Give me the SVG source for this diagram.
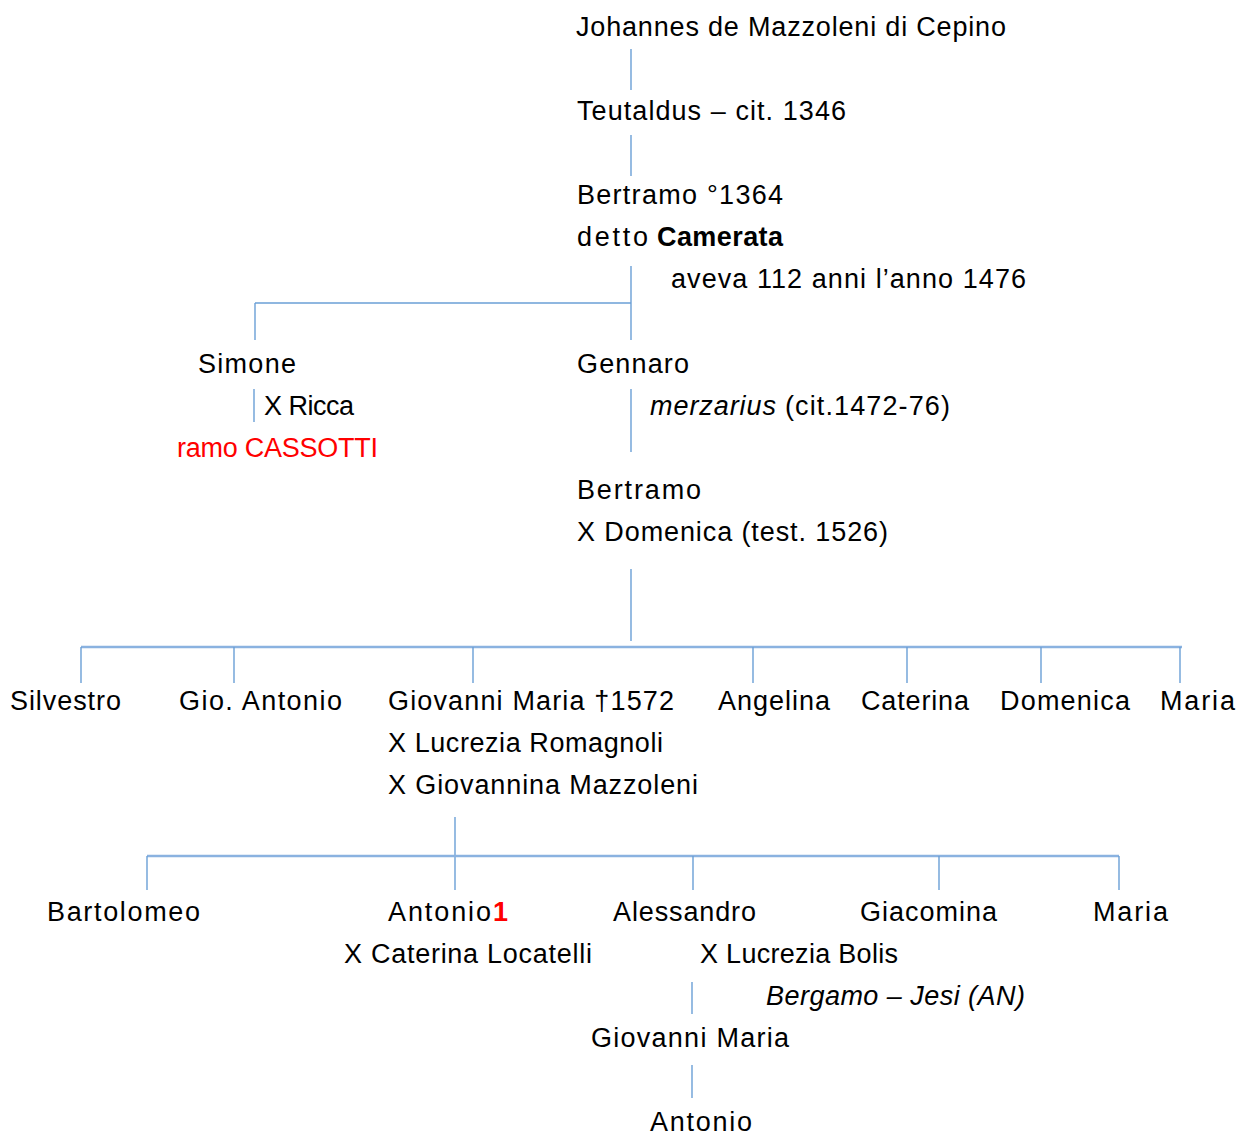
<svg xmlns="http://www.w3.org/2000/svg" width="1238" height="1135" viewBox="0 0 1238 1135">
<style>
text{font-family:"Liberation Sans",Arial,sans-serif;font-size:27px;fill:#000}
.red{fill:#ff0000}
.b{font-weight:bold}
.i{font-style:italic}
.ln line{stroke:#6a9fd6;stroke-width:1.4}
.ln line.th{stroke-width:2.6;stroke:#8ab2e0}
</style>
<rect width="1238" height="1135" fill="#fff"/>
<g id="connectors" class="ln">
<line x1="631" y1="49" x2="631" y2="90"/>
<line x1="631" y1="135" x2="631" y2="176"/>
<line x1="631" y1="266" x2="631" y2="340"/>
<line x1="255" y1="303" x2="631" y2="303"/>
<line x1="255" y1="303" x2="255" y2="340"/>
<line x1="254" y1="389" x2="254" y2="422"/>
<line x1="631" y1="389" x2="631" y2="452"/>
<line x1="631" y1="569" x2="631" y2="641"/>
<line class="th" x1="81" y1="647" x2="1182" y2="647"/>
<line x1="81" y1="647" x2="81" y2="683"/>
<line x1="234" y1="647" x2="234" y2="683"/>
<line x1="473" y1="647" x2="473" y2="683"/>
<line x1="753" y1="647" x2="753" y2="683"/>
<line x1="907" y1="647" x2="907" y2="683"/>
<line x1="1041" y1="647" x2="1041" y2="683"/>
<line x1="1180" y1="647" x2="1180" y2="683"/>
<line x1="455" y1="817" x2="455" y2="890"/>
<line class="th" x1="147" y1="856" x2="1119" y2="856"/>
<line x1="147" y1="856" x2="147" y2="890"/>
<line x1="693" y1="856" x2="693" y2="890"/>
<line x1="939" y1="856" x2="939" y2="890"/>
<line x1="1119" y1="856" x2="1119" y2="890"/>
<line x1="692" y1="982" x2="692" y2="1014"/>
<line x1="692" y1="1065" x2="692" y2="1098"/>
</g>
<g id="johannes"><text x="576" y="36" textLength="430">Johannes de Mazzoleni di Cepino</text></g>
<g id="teutaldus"><text x="577" y="120" textLength="269">Teutaldus – cit. 1346</text></g>
<g id="bertramo1">
<text x="577" y="204" textLength="206">Bertramo °1364</text>
<text x="577" y="246" textLength="71">detto</text>
<text class="b" x="657" y="246" textLength="126">Camerata</text>
<text x="671" y="288" textLength="355">aveva 112 anni l’anno 1476</text>
</g>
<g id="simone">
<text x="198" y="373" textLength="98">Simone</text>
<text x="264" y="415" textLength="90">X Ricca</text>
<text class="red" x="177" y="457" textLength="201">ramo CASSOTTI</text>
</g>
<g id="gennaro">
<text x="577" y="373" textLength="112">Gennaro</text>
<text class="i" x="650" y="415" textLength="126">merzarius</text>
<text x="785" y="415" textLength="165">(cit.1472-76)</text>
</g>
<g id="bertramo2">
<text x="577" y="499" textLength="124">Bertramo</text>
<text x="577" y="541" textLength="311">X Domenica (test. 1526)</text>
</g>
<g id="silvestro"><text x="10" y="710" textLength="111">Silvestro</text></g>
<g id="gioantonio"><text x="179" y="710" textLength="163">Gio. Antonio</text></g>
<g id="giovannimaria1">
<text x="388" y="710" textLength="286">Giovanni Maria †1572</text>
<text x="388" y="752" textLength="275">X Lucrezia Romagnoli</text>
<text x="388" y="794" textLength="310">X Giovannina Mazzoleni</text>
</g>
<g id="angelina"><text x="718" y="710" textLength="112">Angelina</text></g>
<g id="caterina"><text x="861" y="710" textLength="108">Caterina</text></g>
<g id="domenica"><text x="1000" y="710" textLength="130">Domenica</text></g>
<g id="maria1"><text x="1160" y="710" textLength="75">Maria</text></g>
<g id="bartolomeo"><text x="47" y="921" textLength="153">Bartolomeo</text></g>
<g id="antonio1">
<text x="388" y="921" textLength="103">Antonio</text>
<text class="b red" x="493" y="921" textLength="14">1</text>
<text x="344" y="963" textLength="248">X Caterina Locatelli</text>
</g>
<g id="alessandro">
<text x="613" y="921" textLength="143">Alessandro</text>
<text x="700" y="963" textLength="198">X Lucrezia Bolis</text>
<text class="i" x="766" y="1005" textLength="259">Bergamo – Jesi (AN)</text>
</g>
<g id="giacomina"><text x="860" y="921" textLength="137">Giacomina</text></g>
<g id="maria2"><text x="1093" y="921" textLength="75">Maria</text></g>
<g id="giovannimaria2"><text x="591" y="1047" textLength="198">Giovanni Maria</text></g>
<g id="antonio2"><text x="650" y="1131" textLength="102">Antonio</text></g>
</svg>
